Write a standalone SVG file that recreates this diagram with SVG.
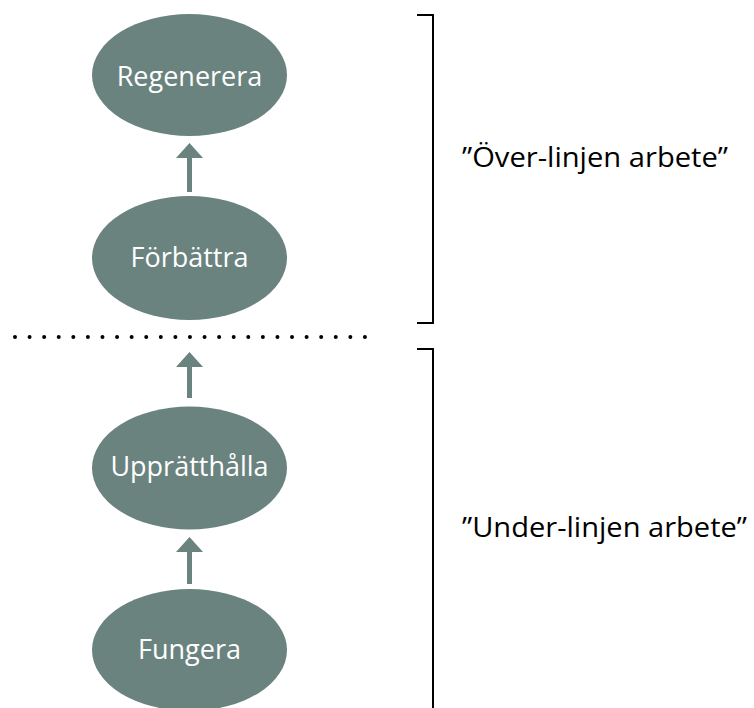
<svg xmlns="http://www.w3.org/2000/svg" width="754" height="708" viewBox="0 0 754 708">
<style>
.node{fill:#6a837f}
.nt{fill:#ffffff;font-family:"Open Sans",sans-serif;font-size:27px;text-anchor:middle;dominant-baseline:central}
.lbl{fill:#000000;font-family:"Open Sans",sans-serif;font-size:27px}
.arr{fill:#6a837f}
.br{fill:none;stroke:#000;stroke-width:2}
</style>
<rect width="754" height="708" fill="#ffffff"/>
<g id="connectors">
<path class="arr" d="M189.5 143 L203 158 L192 158 L192 192 L187 192 L187 158 L176 158 Z"/>
<path class="arr" d="M189.5 352 L203 367 L192 367 L192 398 L187 398 L187 367 L176 367 Z"/>
<path class="arr" d="M189.5 537 L203 552 L192 552 L192 584 L187 584 L187 552 L176 552 Z"/>
</g>
<g id="n-regenerera"><ellipse class="node" cx="189.5" cy="75" rx="97.5" ry="61"/><text class="nt" x="189.5" y="75">Regenerera</text></g>
<g id="n-forbattra"><ellipse class="node" cx="189.5" cy="258" rx="97.5" ry="62"/><text class="nt" x="189.5" y="256">Förbättra</text></g>
<g id="n-upprathalla"><ellipse class="node" cx="189.5" cy="468" rx="97.5" ry="61.5"/><text class="nt" x="189.5" y="465">Upprätthålla</text></g>
<g id="n-fungera"><ellipse class="node" cx="189.5" cy="650" rx="97.5" ry="61"/><text class="nt" x="189.5" y="648">Fungera</text></g>
<g id="divider">
<line x1="15" y1="337" x2="365" y2="337" stroke="#000" stroke-width="4" stroke-linecap="round" stroke-dasharray="0 14.58"/>
</g>
<g id="brackets">
<path class="br" d="M417 15 H433 V323 H417"/>
<path class="br" d="M417 349 H433 V708"/>
</g>
<text class="lbl" x="462" y="167" textLength="266" lengthAdjust="spacingAndGlyphs">”Över-linjen arbete”</text>
<text class="lbl" x="462" y="537" textLength="285" lengthAdjust="spacingAndGlyphs">”Under-linjen arbete”</text>
</svg>
